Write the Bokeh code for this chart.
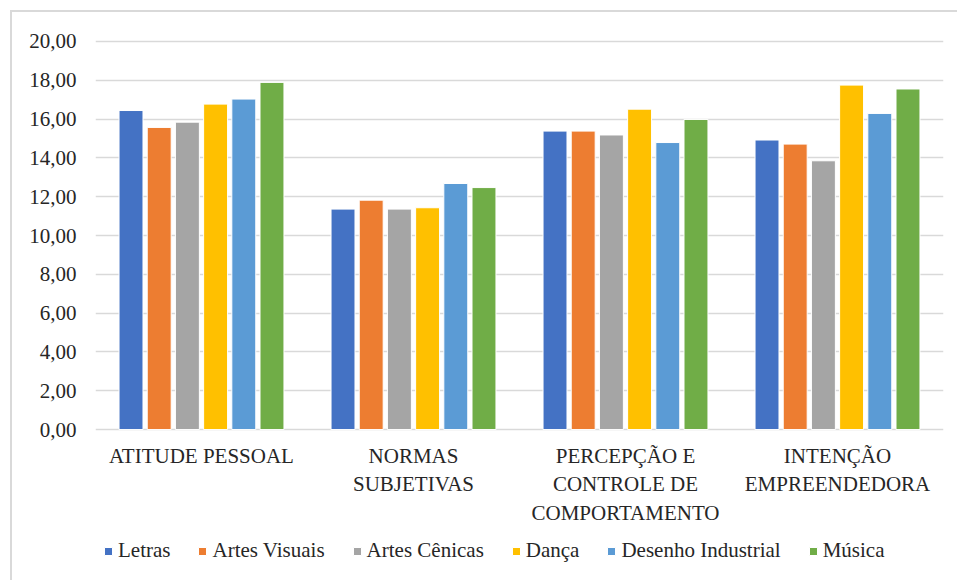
from bokeh.plotting import figure
from bokeh.layouts import column
from bokeh.models import (ColumnDataSource, FactorRange, Range1d, FixedTicker,
                          Legend, LegendItem, CustomJSTickFormatter)
from bokeh.transform import dodge
from bokeh.embed import file_html
from bokeh.resources import INLINE

# Dimensions of the entrepreneurial-attitude scale
categories = [
    "ATITUDE PESSOAL",
    "NORMAS\nSUBJETIVAS",
    "PERCEPÇÃO E\nCONTROLE DE\nCOMPORTAMENTO",
    "INTENÇÃO\nEMPREENDEDORA",
]

# Mean score per course
courses = ["Letras", "Artes Visuais", "Artes Cênicas", "Dança",
           "Desenho Industrial", "Música"]
letras = [16.44, 11.36, 15.38, 14.92]
artes_visuais = [15.57, 11.82, 15.38, 14.71]
artes_cenicas = [15.84, 11.36, 15.18, 13.85]
danca = [16.77, 11.43, 16.51, 17.75]
desenho_industrial = [17.03, 12.68, 14.79, 16.29]
musica = [17.89, 12.47, 15.98, 17.55]

y_ticks = [0, 2, 4, 6, 8, 10, 12, 14, 16, 18, 20]

colors = ["#4472C4", "#ED7D31", "#A5A5A5", "#FFC000", "#5B9BD5", "#70AD47"]
keys = ["letras", "artes_visuais", "artes_cenicas", "danca",
        "desenho_industrial", "musica"]

source = ColumnDataSource(data=dict(
    cat=categories,
    letras=letras,
    artes_visuais=artes_visuais,
    artes_cenicas=artes_cenicas,
    danca=danca,
    desenho_industrial=desenho_industrial,
    musica=musica,
))

FONT = "'Liberation Serif', serif"
TEXT = "#262626"

# --- main bar chart -------------------------------------------------------
p = figure(
    x_range=FactorRange(*categories),
    y_range=Range1d(-0.1, 20.1),
    width=945, height=520,
    min_border_left=83, min_border_right=14,
    min_border_top=27, min_border_bottom=101,
    output_backend="svg", toolbar_location=None,
)

step = 0.133
bar_w = 0.113
for k, (key, col) in enumerate(zip(keys, colors)):
    p.vbar(x=dodge("cat", (k - 2.5) * step, range=p.x_range), top=key,
           bottom=0, width=bar_w, source=source, fill_color=col,
           line_color="white", line_width=1)

p.yaxis.ticker = FixedTicker(ticks=y_ticks)
p.yaxis.formatter = CustomJSTickFormatter(
    code="return tick.toFixed(2).replace('.', ',');")
p.yaxis.axis_line_color = None
p.yaxis.major_tick_line_color = None
p.yaxis.minor_tick_line_color = None
p.yaxis.major_label_standoff = 13
p.yaxis.major_label_text_font = FONT
p.yaxis.major_label_text_font_size = "21px"
p.yaxis.major_label_text_color = TEXT

p.xaxis.axis_line_color = None
p.xaxis.major_tick_line_color = None
p.xaxis.minor_tick_line_color = None
p.xaxis.major_label_standoff = 6
p.xaxis.major_label_text_font = FONT
p.xaxis.major_label_text_font_size = "21px"
p.xaxis.major_label_text_color = TEXT
p.xaxis.major_label_text_line_height = 1.2

p.xgrid.grid_line_color = None
p.ygrid.ticker = FixedTicker(ticks=y_ticks)
p.ygrid.grid_line_color = "#d9d9d9"
p.ygrid.grid_line_width = 1.5
p.outline_line_color = None

# --- legend strip ---------------------------------------------------------
leg = figure(
    width=945, height=48, min_border=0,
    x_range=Range1d(0, 1), y_range=Range1d(0, 1),
    x_axis_location=None, y_axis_location=None,
    output_backend="svg", toolbar_location=None,
)
leg.grid.visible = False
leg.outline_line_color = None

# zero-size swatch renderers that only carry each course's colour
swatches = [leg.vbar(x=[0], top=[0], bottom=[0], width=0, fill_color=col,
                     line_color="white", line_width=1) for col in colors]

legend = Legend(
    items=[LegendItem(label=c, renderers=[r]) for c, r in zip(courses, swatches)],
    orientation="horizontal",
    location=(8, 17),
    glyph_width=10, glyph_height=10,
    label_standoff=5, spacing=27,
    padding=0, margin=0,
    border_line_color=None, background_fill_alpha=0,
    label_text_font=FONT, label_text_font_size="21px",
    label_text_color=TEXT,
)
leg.add_layout(legend, "center")

layout = column(
    p, leg, spacing=0,
    styles={"margin-left": "10px", "margin-top": "10px",
            "border-left": "2px solid #d9d9d9",
            "border-top": "2px solid #d9d9d9"},
)

open("out.html", "w").write(file_html(layout, INLINE))
